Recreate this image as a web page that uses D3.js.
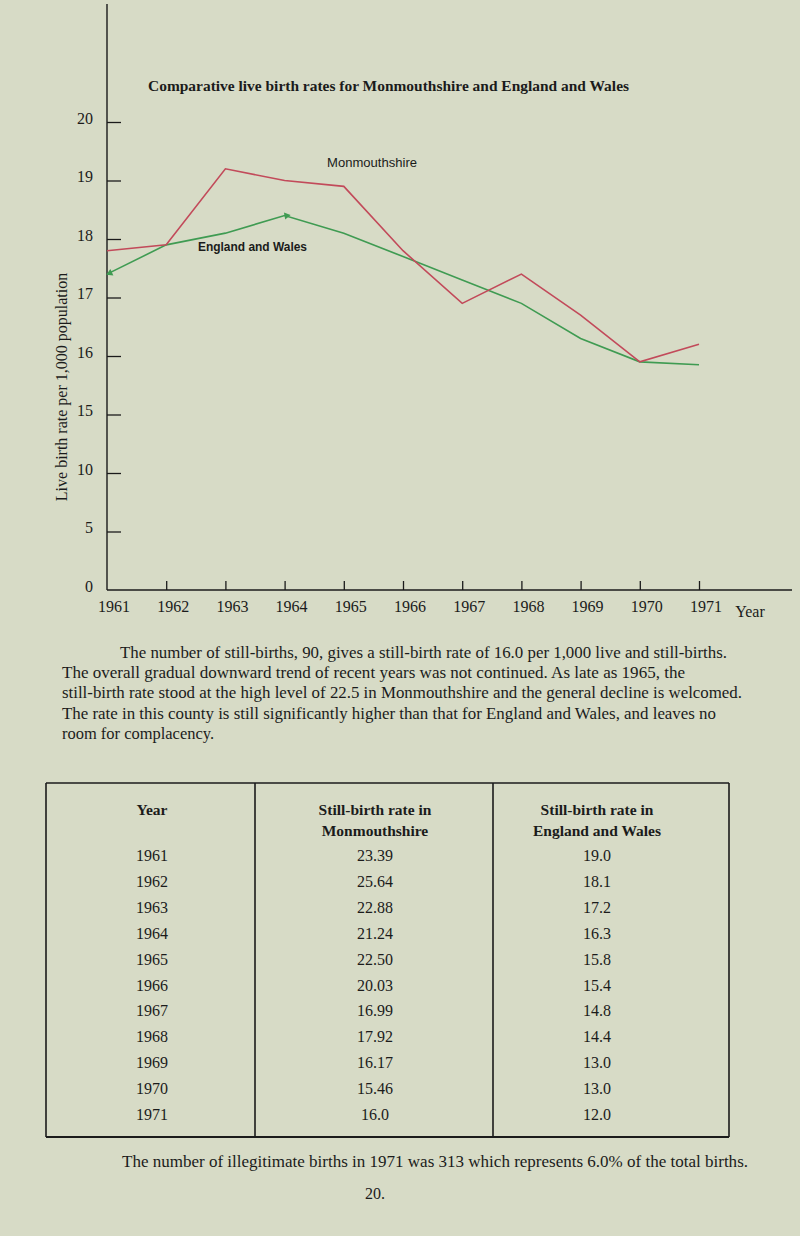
<!DOCTYPE html>
<html>
<head>
<meta charset="utf-8">
<script src="https://cdn.jsdelivr.net/npm/d3@7"></script>
<style>
  html, body { margin: 0; padding: 0; background: #d7dbc6; }
  svg { display: block; }
</style>
</head>
<body>
<svg id="page" width="800" height="1236"></svg>
<script>
// ---------- DATA ----------
const years = [1961, 1962, 1963, 1964, 1965, 1966, 1967, 1968, 1969, 1970, 1971];
const monmouthshire = [17.8, 17.9, 19.2, 19.0, 18.9, 17.8, 16.9, 17.4, 16.7, 15.9, 16.2];
const englandWales = [17.4, 17.9, 18.1, 18.4, 18.1, 17.7, 17.3, 16.9, 16.3, 15.9, 15.85];
const yTicks = [0, 5, 10, 15, 16, 17, 18, 19, 20];

const chartTitle = "Comparative live birth rates for Monmouthshire and England and Wales";
const yTitle = "Live birth rate per 1,000 population";
const xTitle = "Year";

const paragraph = [
  "The number of still-births, 90, gives a still-birth rate of 16.0 per 1,000 live and still-births.",
  "The overall gradual downward trend of recent years was not continued. As late as 1965, the",
  "still-birth rate stood at the high level of 22.5 in Monmouthshire and the general decline is welcomed.",
  "The rate in this county is still significantly higher than that for England and Wales, and leaves no",
  "room for complacency."
];

const tableHeaders = [["Year"], ["Still-birth rate in", "Monmouthshire"], ["Still-birth rate in", "England and Wales"]];
const tableYears = ["1961", "1962", "1963", "1964", "1965", "1966", "1967", "1968", "1969", "1970", "1971"];
const stillMon = ["23.39", "25.64", "22.88", "21.24", "22.50", "20.03", "16.99", "17.92", "16.17", "15.46", "16.0"];
const stillEW = ["19.0", "18.1", "17.2", "16.3", "15.8", "15.4", "14.8", "14.4", "13.0", "13.0", "12.0"];

const footer = "The number of illegitimate births in 1971 was 313 which represents 6.0% of the total births.";
const pageNo = "20.";

// ---------- DRAW ----------
const svg = d3.select("#page");
const ink = "#1b1b1b";
const serif = "'Liberation Serif', 'Times New Roman', serif";
const sans = "'Liberation Sans', Arial, sans-serif";

const x = d3.scaleLinear().domain([1961, 1971]).range([107, 699]);
const y = d3.scaleLinear().domain(yTicks).range([590, 531.5, 473, 414.5, 356, 297.5, 239, 180.5, 122]);

const chart = svg.append("g");

// axes lines
chart.append("line").attr("x1", 107).attr("x2", 107).attr("y1", 4).attr("y2", y(0))
  .attr("stroke", ink).attr("stroke-width", 1.4);
chart.append("line").attr("x1", 107).attr("x2", 792).attr("y1", y(0)).attr("y2", y(0))
  .attr("stroke", ink).attr("stroke-width", 1.4);

// y ticks (inward)
const yAxis = d3.axisRight(y).tickValues(yTicks.slice(1)).tickSize(14).tickFormat("");
const gy = chart.append("g").attr("transform", "translate(107,0)").call(yAxis);
gy.select(".domain").remove();
gy.selectAll("line").attr("stroke", ink).attr("stroke-width", 1.3);

chart.selectAll(".ylab").data(yTicks).join("text")
  .attr("x", 93).attr("y", d => y(d) + 1.5)
  .attr("text-anchor", "end")
  .attr("font-family", serif).attr("font-size", 16).attr("fill", ink)
  .text(d => d);

// x ticks (upward)
const xAxis = d3.axisTop(x).tickValues(years.slice(1)).tickSize(9).tickFormat("");
const gx = chart.append("g").attr("transform", `translate(0,${y(0)})`).call(xAxis);
gx.select(".domain").remove();
gx.selectAll("line").attr("stroke", ink).attr("stroke-width", 1.3);

chart.selectAll(".xlab").data(years).join("text")
  .attr("x", d => x(d) + 7).attr("y", 612)
  .attr("text-anchor", "middle")
  .attr("font-family", serif).attr("font-size", 16).attr("fill", ink)
  .text(d => d);

chart.append("text").attr("x", 750).attr("y", 617).attr("text-anchor", "middle")
  .attr("font-family", serif).attr("font-size", 16).attr("fill", ink).text(xTitle);

// y title
chart.append("text")
  .attr("transform", "translate(67,387) rotate(-90)")
  .attr("text-anchor", "middle")
  .attr("font-family", serif).attr("font-size", 16).attr("fill", ink)
  .text(yTitle);

// chart title
chart.append("text").attr("x", 148).attr("y", 91)
  .attr("font-family", serif).attr("font-weight", "bold").attr("font-size", 15)
  .attr("textLength", 481).attr("lengthAdjust", "spacingAndGlyphs")
  .attr("fill", ink).text(chartTitle);

// lines
const line = d3.line().x((d, i) => x(years[i])).y(d => y(d));
chart.append("path").datum(englandWales).attr("d", line)
  .attr("fill", "none").attr("stroke", "#3f9b52").attr("stroke-width", 1.6);
chart.append("path").datum(monmouthshire).attr("d", line)
  .attr("fill", "none").attr("stroke", "#c24a5a").attr("stroke-width", 1.6);

// small arrow marks on the England and Wales line
const tri = d3.symbol().type(d3.symbolTriangle).size(22);
chart.append("path").attr("d", tri())
  .attr("transform", `translate(${x(1964) + 2},${y(18.4)}) rotate(80)`)
  .attr("fill", "#3f9b52");
chart.append("path").attr("d", tri())
  .attr("transform", `translate(${x(1961) + 3},${y(17.4) - 1}) rotate(-115)`)
  .attr("fill", "#3f9b52");

// series labels
chart.append("text").attr("x", 327).attr("y", 167)
  .attr("font-family", sans).attr("font-size", 13).attr("fill", ink)
  .attr("textLength", 90).attr("lengthAdjust", "spacingAndGlyphs")
  .text("Monmouthshire");
chart.append("text").attr("x", 198).attr("y", 251)
  .attr("font-family", sans).attr("font-weight", "bold").attr("font-size", 12).attr("fill", ink)
  .attr("textLength", 109).attr("lengthAdjust", "spacingAndGlyphs")
  .text("England and Wales");

// ---------- PARAGRAPH ----------
const paraX = [120, 62, 62, 62, 62];
const paraW = [607, 623, 680, 654, 152];
svg.selectAll(".para").data(paragraph).join("text")
  .attr("x", (d, i) => paraX[i]).attr("y", (d, i) => 658 + i * 20.2)
  .attr("font-family", serif).attr("font-size", 16).attr("fill", ink)
  .attr("textLength", (d, i) => paraW[i]).attr("lengthAdjust", "spacingAndGlyphs")
  .text(d => d);

// ---------- TABLE ----------
const tLeft = 46, tRight = 729, tTop = 783, tBottom = 1137;
const colEdges = [tLeft, 255, 493, tRight];
const colCenters = [152, 375, 597];
const tg = svg.append("g");
tg.append("line").attr("x1", tLeft).attr("x2", tRight).attr("y1", tTop).attr("y2", tTop)
  .attr("stroke", ink).attr("stroke-width", 1.6);
tg.append("line").attr("x1", tLeft).attr("x2", tRight).attr("y1", tBottom).attr("y2", tBottom)
  .attr("stroke", ink).attr("stroke-width", 2.2);
tg.selectAll(".vline").data(colEdges).join("line")
  .attr("x1", d => d).attr("x2", d => d).attr("y1", tTop).attr("y2", tBottom)
  .attr("stroke", ink).attr("stroke-width", 1.6);

tableHeaders.forEach((lines, c) => {
  lines.forEach((t, k) => {
    tg.append("text").attr("x", colCenters[c]).attr("y", 815 + k * 20.5)
      .attr("text-anchor", "middle")
      .attr("font-family", serif).attr("font-weight", "bold").attr("font-size", 15.5)
      .attr("fill", ink).text(t);
  });
});

const rowY = i => 861 + i * 25.9;
tg.selectAll(".c0").data(tableYears).join("text")
  .attr("x", colCenters[0]).attr("y", (d, i) => rowY(i)).attr("text-anchor", "middle")
  .attr("font-family", serif).attr("font-size", 16).attr("fill", ink).text(d => d);
tg.selectAll(".c1").data(stillMon).join("text")
  .attr("x", colCenters[1]).attr("y", (d, i) => rowY(i)).attr("text-anchor", "middle")
  .attr("font-family", serif).attr("font-size", 16).attr("fill", ink).text(d => d);
tg.selectAll(".c2").data(stillEW).join("text")
  .attr("x", colCenters[2]).attr("y", (d, i) => rowY(i)).attr("text-anchor", "middle")
  .attr("font-family", serif).attr("font-size", 16).attr("fill", ink).text(d => d);

// ---------- FOOTER ----------
svg.append("text").attr("x", 122).attr("y", 1167)
  .attr("font-family", serif).attr("font-size", 16).attr("fill", ink)
  .attr("textLength", 626).attr("lengthAdjust", "spacingAndGlyphs")
  .text(footer);
svg.append("text").attr("x", 375).attr("y", 1199).attr("text-anchor", "middle")
  .attr("font-family", serif).attr("font-size", 16).attr("fill", ink)
  .text(pageNo);
</script>
</body>
</html>
